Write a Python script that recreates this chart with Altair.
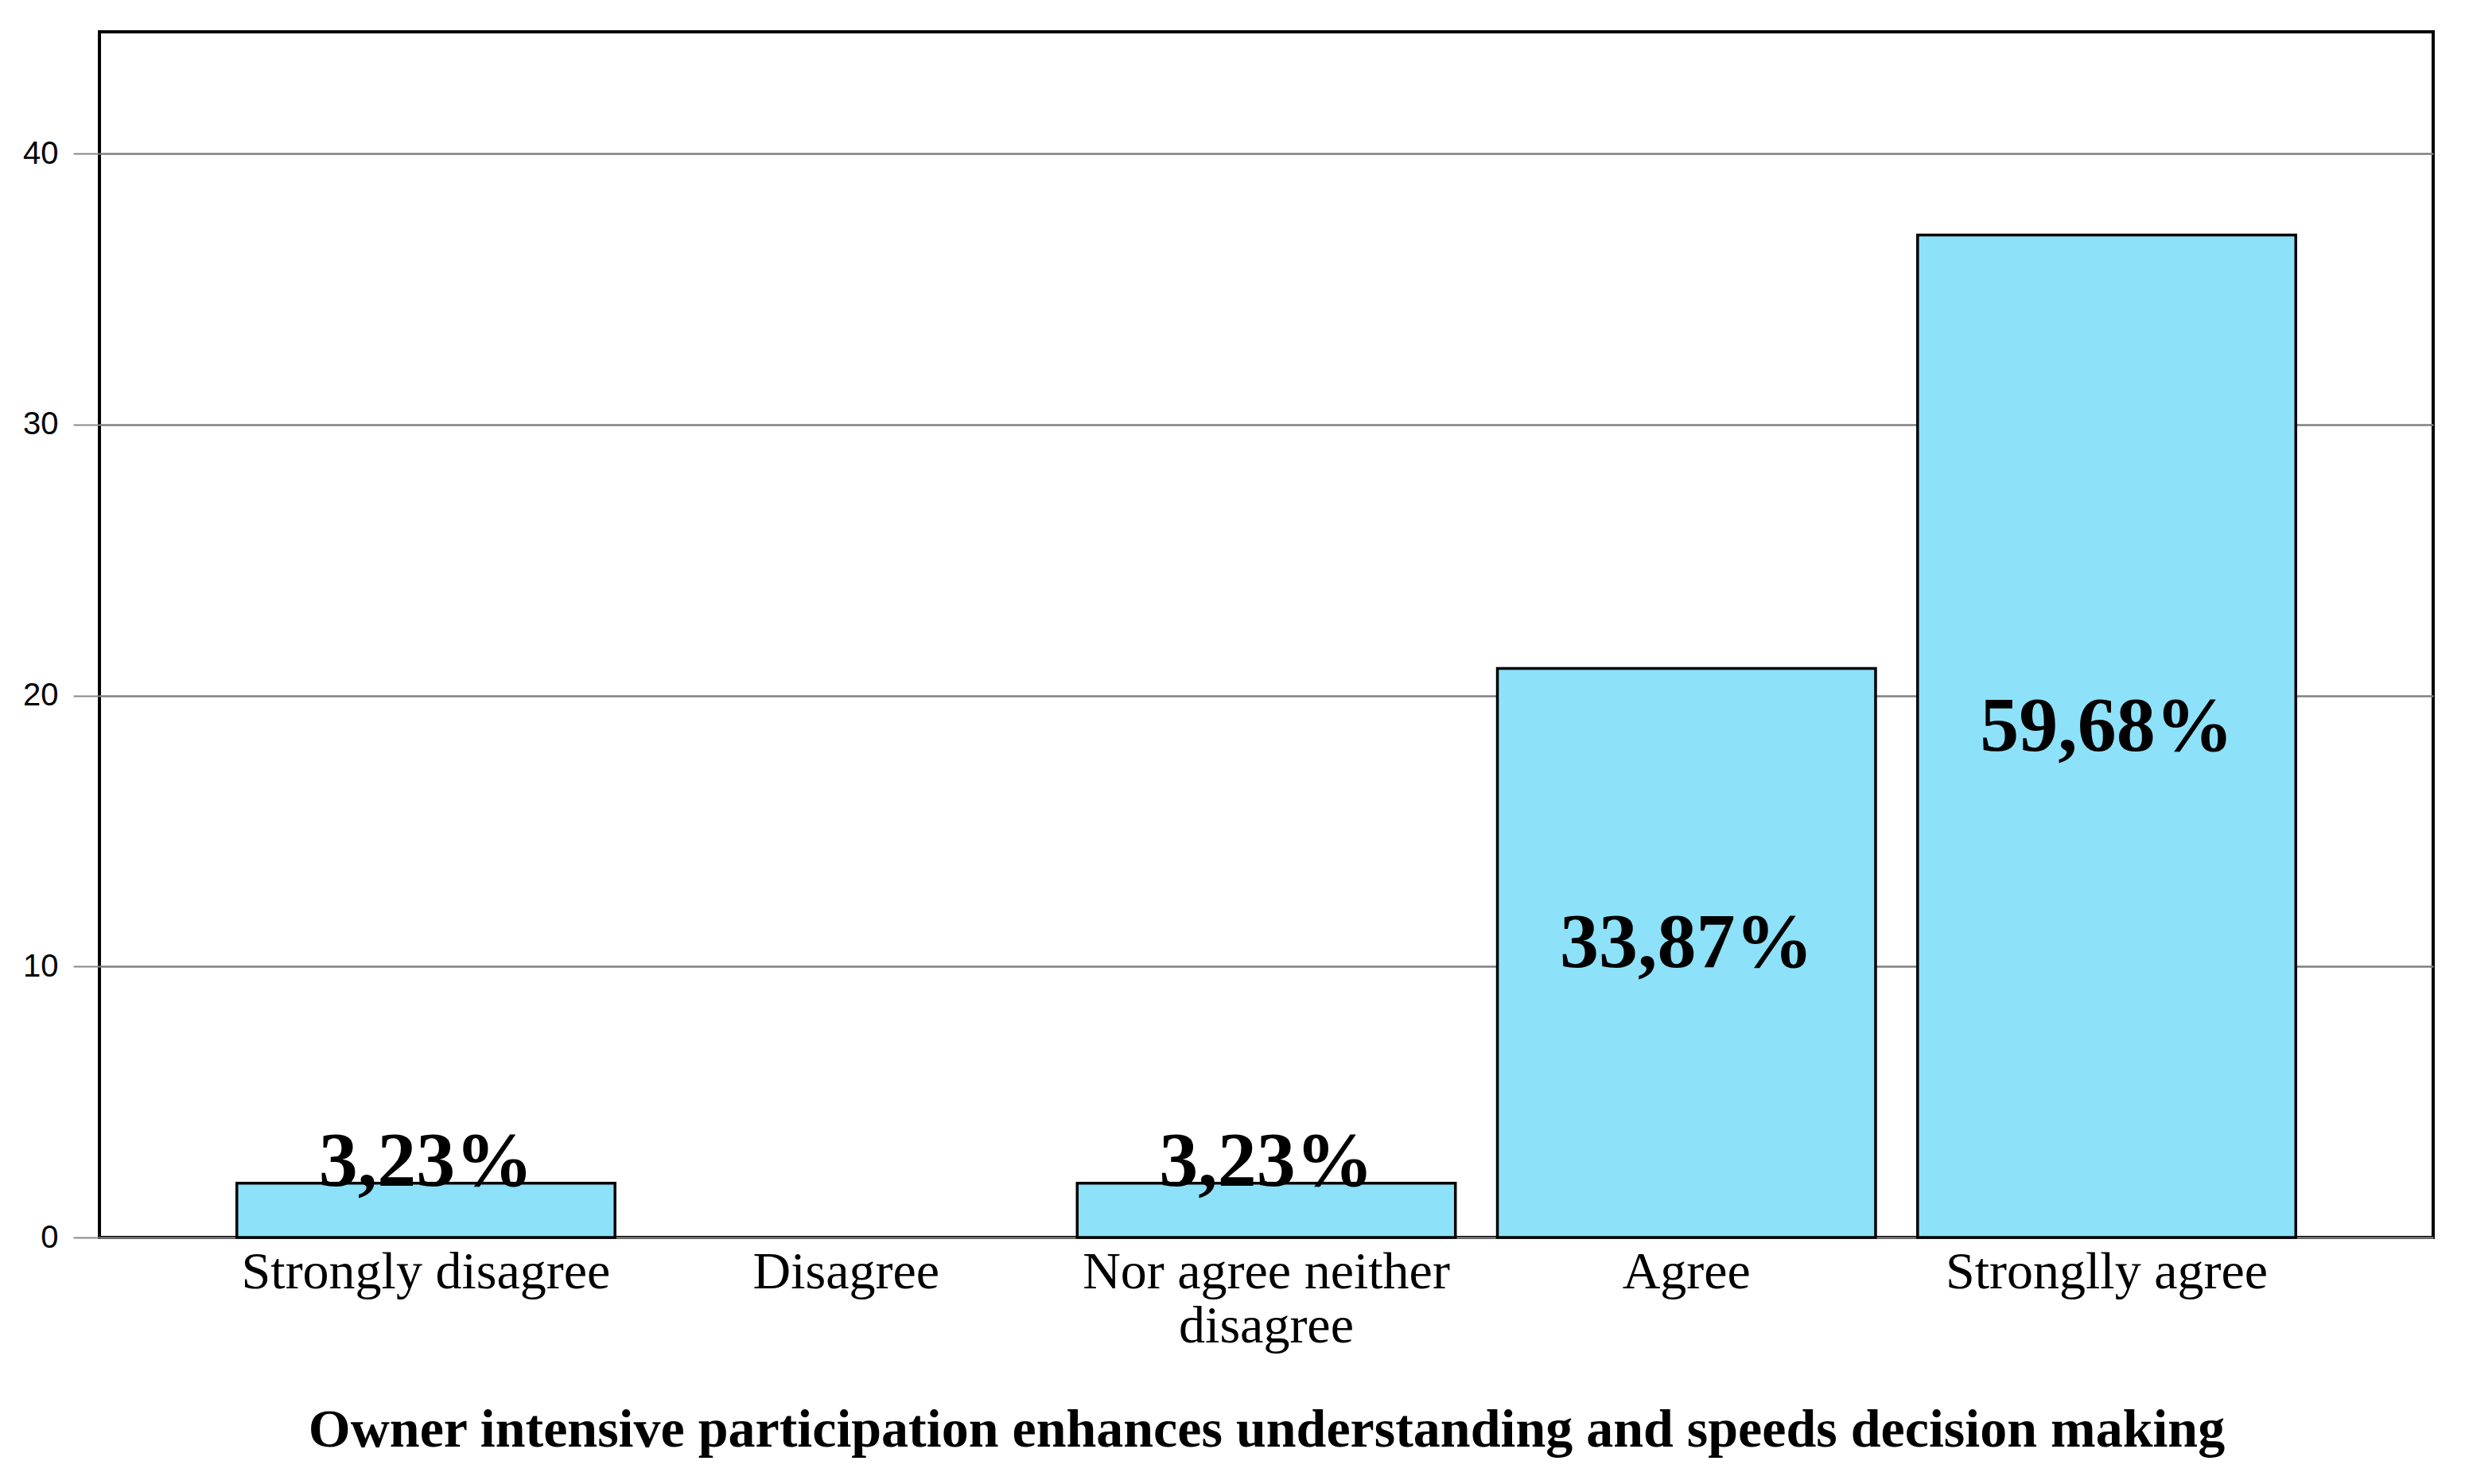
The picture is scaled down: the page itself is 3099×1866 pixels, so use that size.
import altair as alt
import pandas as pd

categories = ["Strongly disagree", "Disagree", "Nor agree neither disagree", "Agree", "Stronglly agree"]
counts = [2, 0, 2, 21, 37]
y_ticks = [0, 10, 20, 30, 40]
x_title = "Owner intensive participation enhances understanding and speeds decision making"

total = sum(counts)
pct = [(f"{c / total * 100:.2f}".replace(".", ",") + "%") if c > 0 else "" for c in counts]
df = pd.DataFrame({"cat": categories, "count": counts, "pct": pct})

x_enc = alt.X(
    "cat:N",
    sort=categories,
    scale=alt.Scale(domain=categories, paddingInner=0.1, paddingOuter=0.327),
    axis=alt.Axis(
        title=x_title,
        labelAngle=0,
        labelLimit=2000,
        labelFont="Liberation Serif",
        labelFontSize=66,
        labelColor="black",
        labelPadding=11,
        labelLineHeight=68,
        labelExpr="datum.label == 'Nor agree neither disagree' ? ['Nor agree neither', 'disagree'] : datum.label",
        ticks=False,
        domain=False,
        titleFont="Liberation Serif",
        titleFontSize=68,
        titleFontWeight="bold",
        titleColor="black",
        titlePadding=64,
    ),
)

bars = alt.Chart(df).transform_filter(
    "datum.count > 0"
).mark_bar(
    color="#8DE1F9", stroke="black", strokeWidth=3.5
).encode(
    x=x_enc,
    y=alt.Y(
        "count:Q",
        scale=alt.Scale(domain=[0, 44.5], nice=False),
        axis=alt.Axis(
            title=None,
            values=y_ticks,
            labelFont="Liberation Sans",
            labelFontSize=40,
            labelColor="black",
            labelPadding=19,
            tickSize=33,
            tickWidth=2,
            tickColor="#888888",
            grid=True,
            gridColor="#7f7f7f",
            gridWidth=2.5,
            domain=False,
        ),
    ),
)

labels = alt.Chart(df).transform_filter(
    "datum.count > 0"
).transform_calculate(
    ly="max(datum.count / 2, 2.45)"
).mark_text(
    font="Liberation Serif", fontSize=98, fontWeight="bold", color="black",
    baseline="middle", align="center", dy=-11
).encode(
    x=alt.X("cat:N", sort=categories),
    y=alt.Y("ly:Q"),
    text="pct:N",
)

chart = alt.layer(bars, labels).properties(
    width=2934,
    height=1516,
    padding={"left": 20, "top": 32, "right": 20, "bottom": 10},
    background="white",
).configure_view(
    stroke="black", strokeWidth=4
)

chart.save("out.html", embed_options={"renderer": "svg", "actions": False})
